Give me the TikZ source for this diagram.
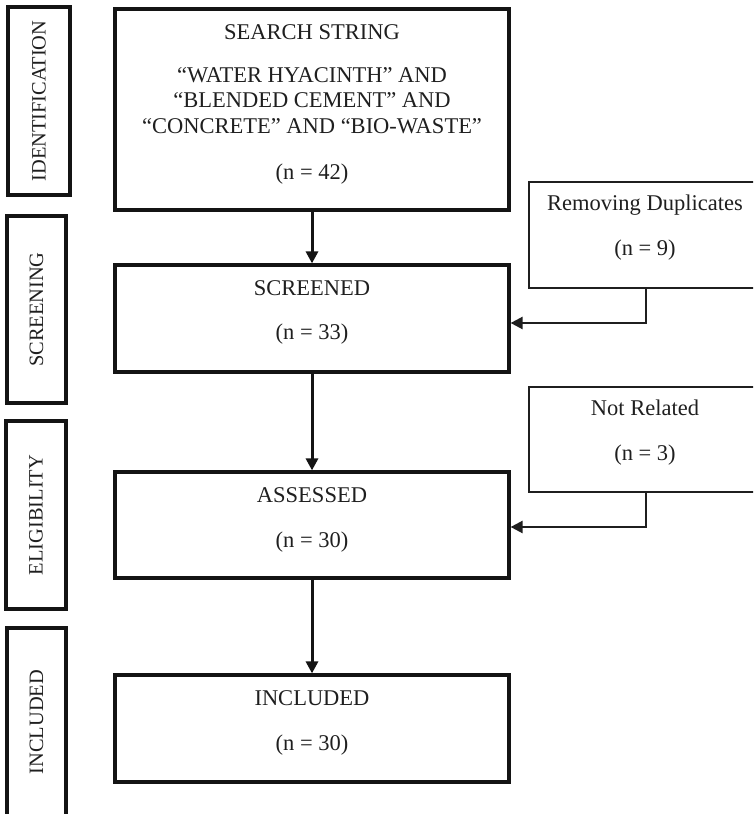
\documentclass[tikz,border=0pt]{standalone}
\usepackage{fontspec}
\setmainfont{Liberation Serif}
\usetikzlibrary{arrows.meta}
\tikzset{
  mainbox/.style={draw=black!92, line width=3.2pt, minimum width=394pt, inner sep=0pt},
  phasebox/.style={draw=black!92, line width=3.2pt, inner sep=0pt},
  sidebox/.style={draw=black!88, line width=2.4pt, minimum width=232pt, minimum height=106pt, inner sep=0pt},
  txt/.style={anchor=base, inner sep=0pt, text=black!88, font=\fontsize{22.5}{26}\selectfont},
  phasetxt/.style={rotate=90, inner sep=0pt, text=black!88, font=\fontsize{20.4}{24}\selectfont},
  mainarrow/.style={draw=black!92, line width=3pt, -{Triangle[length=12pt,width=12pt]}},
  sidearrow/.style={draw=black!88, line width=2.4pt, -{Triangle[length=12pt,width=12pt]}}
}
\begin{document}
\begin{tikzpicture}[x=1pt,y=1pt]
\useasboundingbox (0,0) rectangle (753,-814);
\clip (0,0) rectangle (753,-814);
% phase boxes
\node[phasebox, minimum width=62pt, minimum height=188pt] (pid) at (39,-101) {};
\node[phasetxt] (pidt) at (39,-101) {IDENTIFICATION};
\node[phasebox, minimum width=59pt, minimum height=187pt] (psc) at (36.5,-309.5) {};
\node[phasetxt] (psct) at (36.5,-309.5) {SCREENING};
\node[phasebox, minimum width=60pt, minimum height=188pt] (pel) at (36,-515) {};
\node[phasetxt] (pelt) at (36,-515) {ELIGIBILITY};
\node[phasebox, minimum width=59pt, minimum height=188pt] (pin) at (36.5,-722) {};
\node[phasetxt] (pint) at (36.5,-722) {INCLUDED};
% main boxes
\node[mainbox, minimum height=201pt] (srch) at (312,-109.5) {};
\node[txt] (srch1) at (312,-39.5) {SEARCH STRING};
\node[txt] (srch2) at (312,-82.5) {“WATER HYACINTH” AND};
\node[txt] (srch3) at (312,-107.5) {“BLENDED CEMENT” AND};
\node[txt] (srch4) at (312,-133.5) {“CONCRETE” AND “BIO-WASTE”};
\node[txt] (srch5) at (312,-179.5) {(n = 42)};
\node[mainbox, minimum height=107pt] (scr) at (312,-318.5) {};
\node[txt] (scr1) at (312,-295.5) {SCREENED};
\node[txt] (scr2) at (312,-339.5) {(n = 33)};
\node[mainbox, minimum height=106pt] (ass) at (312,-525) {};
\node[txt] (ass1) at (312,-502.5) {ASSESSED};
\node[txt] (ass2) at (312,-547.5) {(n = 30)};
\node[mainbox, minimum height=107pt] (inc) at (312,-728.5) {};
\node[txt] (inc1) at (312,-705.5) {INCLUDED};
\node[txt] (inc2) at (312,-750.5) {(n = 30)};
% side boxes
\node[sidebox] (dup) at (645,-235) {};
\node[txt] (dup1) at (645,-210.5) {Removing Duplicates};
\node[txt] (dup2) at (645,-255.5) {(n = 9)};
\node[sidebox, minimum height=105pt] (nr) at (645,-439.5) {};
\node[txt] (nr1) at (645,-415.5) {Not Related};
\node[txt] (nr2) at (645,-460.5) {(n = 3)};
% connectors
\draw[mainarrow] (srch.south) -- (scr.north);
\draw[mainarrow] (scr.south) -- (ass.north);
\draw[mainarrow] (ass.south) -- (inc.north);
\coordinate (k1) at (646,-323);
\coordinate (k2) at (646,-527);
\draw[sidearrow] (dup.south -| k1) -- (k1) -- (k1 -| scr.east);
\draw[sidearrow] (nr.south -| k2) -- (k2) -- (k2 -| ass.east);
\end{tikzpicture}
\end{document}
